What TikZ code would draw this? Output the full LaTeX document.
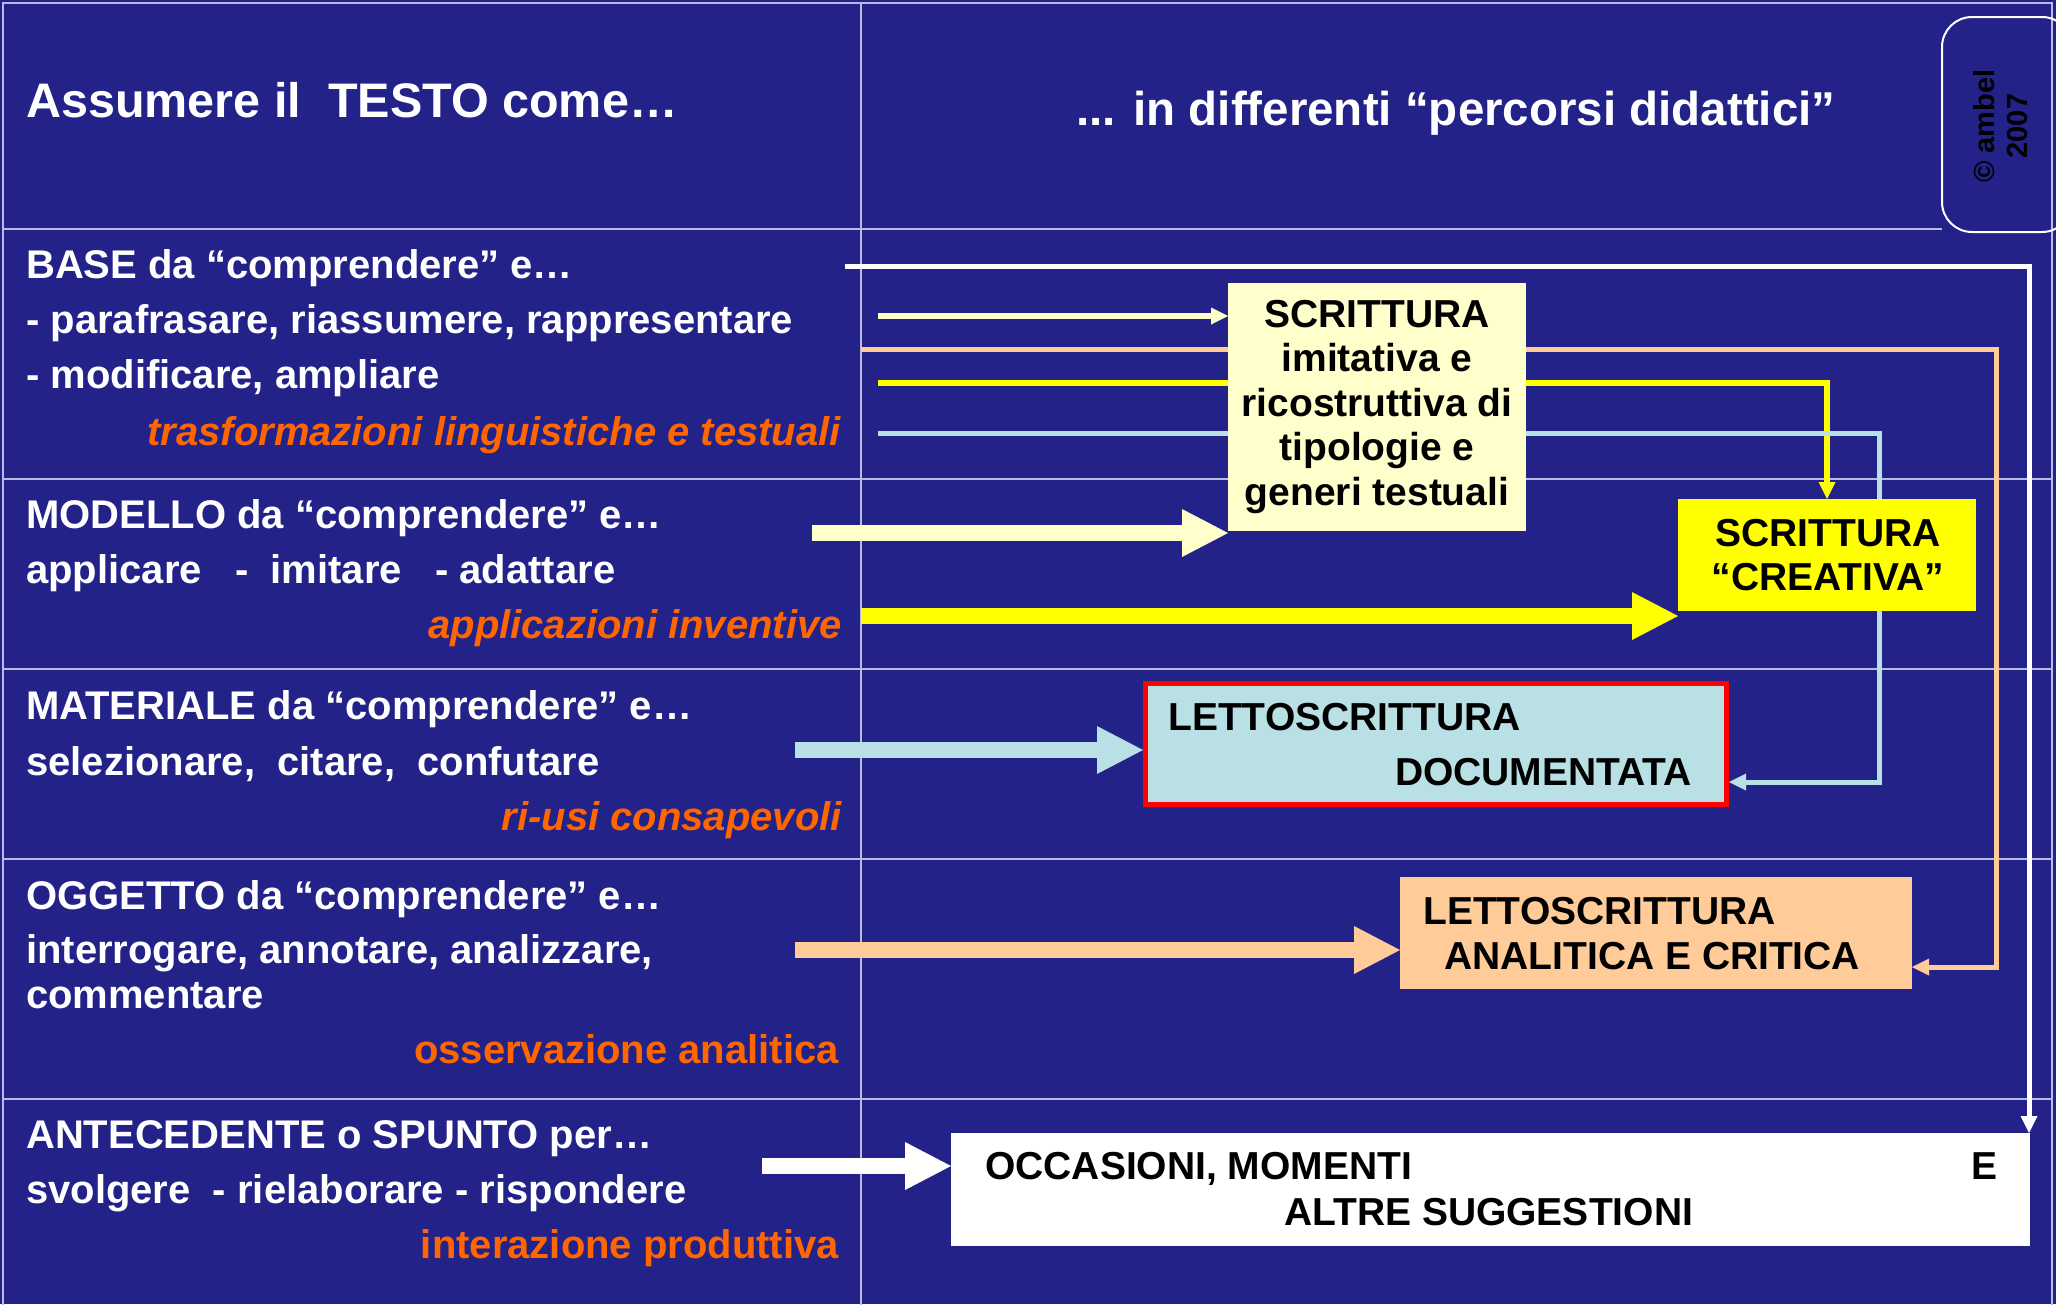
\documentclass[tikz,border=0pt]{standalone}
\usepackage{fontspec}
\setmainfont{Liberation Sans}
\usetikzlibrary{arrows.meta}
\pgfdeclarelayer{back}
\pgfdeclarelayer{mid}
\pgfsetlayers{back,mid,main}
\definecolor{bgblue}{RGB}{34,34,136}
\definecolor{gridc}{RGB}{185,185,225}
\definecolor{lyel}{RGB}{255,255,204}
\definecolor{yel}{RGB}{255,255,0}
\definecolor{lblue}{RGB}{185,224,228}
\definecolor{peach}{RGB}{255,204,153}
\definecolor{orng}{RGB}{255,102,0}
\begin{document}
\begin{tikzpicture}[x=1pt,y=-1pt,
  lt/.style={inner sep=0pt, anchor=base west, text=white, font=\fontsize{40pt}{45pt}\selectfont\bfseries},
  ot/.style={inner sep=0pt, anchor=base east, text=orng, font=\fontsize{40pt}{45pt}\selectfont\bfseries},
  oti/.style={ot, font=\fontsize{40pt}{45pt}\selectfont\bfseries\itshape},
  hd/.style={inner sep=0pt, anchor=base west, text=white, font=\fontsize{48.5pt}{50pt}\selectfont\bfseries},
  boxtxt/.style={inner sep=0pt, text=black, font=\fontsize{39pt}{44.5pt}\selectfont\bfseries},
  panel/.style={inner sep=0pt, outer sep=0pt, anchor=north west},
  conn/.style={line width=5pt, -{Triangle[length=17pt 0 0, width=17pt 0 0, line width=0pt]}},
  block/.style={line width=16pt, -{Triangle[length=46pt 0 0, width=48pt 0 0, line width=0pt]}},
  gridl/.style={draw=gridc, line width=2pt}
]
\useasboundingbox (0,0) rectangle (2056,1304);
\begin{pgfonlayer}{back}
  \fill[bgblue] (0,0) rectangle (2056,1304);
  \draw[gridl] (3,1310) -- (3,3) -- (2052,3) -- (2052,1310);
  \draw[gridl] (861,3) -- (861,1310);
  \draw[gridl] (3,229) -- (1942,229);
  \draw[gridl] (3,479) -- (2052,479);
  \draw[gridl] (3,669) -- (2052,669);
  \draw[gridl] (3,859) -- (2052,859);
  \draw[gridl] (3,1099) -- (2052,1099);
\end{pgfonlayer}

% copyright box
\node[panel, draw=white, line width=2pt, rounded corners=30pt, minimum width=130pt, minimum height=215pt] (cbox) at (1942,17) {};
\node[rotate=90, align=center, inner sep=0pt, text=black, font=\fontsize{29pt}{33pt}\selectfont\bfseries] (copy) at (2001,126) {© ambel\\2007};

% headers
\node[hd] (h1) at (26,117) {Assumere il~~TESTO come…};
\node[hd, font=\fontsize{47.5pt}{50pt}\selectfont\bfseries] (h2) at (1076,125) {... in differenti “percorsi didattici”};

% row 1
\node[lt] (r1a) at (26,278) {BASE da “comprendere” e…};
\node[lt] (r1b) at (26,333) {- parafrasare, riassumere, rappresentare};
\node[lt] (r1c) at (26,388) {- modificare, ampliare};
\node[oti] (r1d) at (841,445) {trasformazioni linguistiche e testuali};
% row 2
\node[lt] (r2a) at (26,528) {MODELLO da “comprendere” e…};
\node[lt] (r2b) at (26,583) {applicare~~~-~~imitare~~~-~adattare};
\node[oti] (r2c) at (842,638) {applicazioni inventive};
% row 3
\node[lt] (r3a) at (26,719) {MATERIALE da “comprendere” e…};
\node[lt] (r3b) at (26,775) {selezionare,~~citare,~~confutare};
\node[oti] (r3c) at (842,830) {ri-usi consapevoli};
% row 4
\node[lt] (r4a) at (26,909) {OGGETTO da “comprendere” e…};
\node[lt] (r4b) at (26,963) {interrogare, annotare, analizzare,};
\node[lt] (r4c) at (26,1008) {commentare};
\node[ot] (r4d) at (839,1063) {osservazione analitica};
% row 5
\node[lt] (r5a) at (26,1148) {ANTECEDENTE o SPUNTO per…};
\node[lt] (r5b) at (26,1203) {svolgere~~- rielaborare - rispondere};
\node[ot] (r5c) at (839,1258) {interazione produttiva};

% boxes
\node[panel, fill=lyel, minimum width=298pt, minimum height=248pt] (scr) at (1228,283) {};
\node[boxtxt, align=center] (scrt) at (1377,407) {SCRITTURA\\imitativa e\\ricostruttiva di\\tipologie e\\generi testuali};

\node[panel, fill=yel, minimum width=298pt, minimum height=112pt] (cre) at (1678,499) {};
\node[boxtxt, align=center] (cret) at (1828,555) {SCRITTURA\\“CREATIVA”};

\node[panel, fill=lblue, draw=red, line width=5pt, minimum width=581pt, minimum height=121pt] (doc) at (1145.5,683.5) {};
\node[boxtxt, anchor=base west] (doc1) at (1168,730) {LETTOSCRITTURA};
\node[boxtxt, anchor=base east] (doc2) at (1692,785) {DOCUMENTATA};

\node[panel, fill=peach, minimum width=512pt, minimum height=112pt] (ana) at (1400,877) {};
\node[boxtxt, anchor=base west] (ana1) at (1423,924) {LETTOSCRITTURA};
\node[boxtxt, anchor=base west] (ana2) at (1444,969) {ANALITICA E CRITICA};

\node[panel, fill=white, minimum width=1079pt, minimum height=113pt] (occ) at (951,1133) {};
\node[boxtxt, anchor=base west] (occ1) at (985,1179) {OCCASIONI, MOMENTI};
\node[boxtxt, anchor=base east] (occ2) at (1998,1179) {E};
\node[boxtxt, anchor=base west] (occ3) at (1284,1225) {ALTRE SUGGESTIONI};

% connector start points and turns
\coordinate (ws) at (845,266);
\coordinate (lys) at (878,316);
\coordinate (pks) at (861,349);
\coordinate (pkt) at (1996,967);
\coordinate (yls) at (878,383);
\coordinate (lbs) at (878,433);
\coordinate (lbt) at (1879,782);
\coordinate (a1) at (812,533);
\coordinate (a2) at (861,616);
\coordinate (a3) at (795,750);
\coordinate (a4) at (795,950);
\coordinate (a5) at (762,1166);

\begin{pgfonlayer}{mid}
  \draw[conn, draw=white] (ws) -| ([xshift=-1pt]occ.north east);
  \draw[conn, draw=lyel, line width=6pt] (lys) -- (scr.west |- lys);
  \draw[conn, draw=peach] (pks) -| (pkt) -- (ana.east |- pkt);
  \draw[conn, draw=yel, line width=6pt] (yls) -| (cre.north);
  \draw[conn, draw=lblue] (lbs) -| (lbt) -- ([xshift=2.5pt]doc.east |- lbt);
\end{pgfonlayer}
\draw[block, draw=lyel] (a1) -- (scr.west |- a1);
\draw[block, draw=yel] (a2) -- (cre.west |- a2);
\draw[block, draw=lblue] (a3) -- ([xshift=-2.5pt]doc.west |- a3);
\draw[block, draw=peach] (a4) -- (ana.west |- a4);
\draw[block, draw=white] (a5) -- (occ.west |- a5);
\end{tikzpicture}
\end{document}
